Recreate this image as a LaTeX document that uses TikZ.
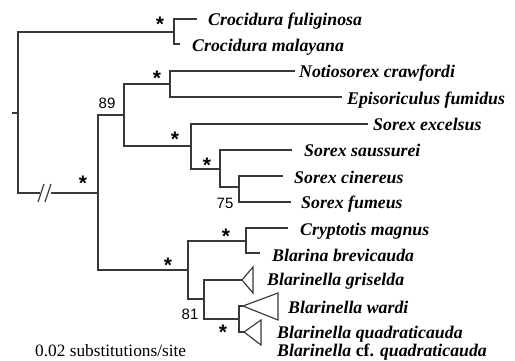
\documentclass[tikz,border=0pt]{standalone}
\usepackage{fontspec}
\setmainfont{Liberation Serif}
\newfontfamily\numfam{Liberation Sans}
\begin{document}
\begin{tikzpicture}[x=1bp,y=-1bp,
  br/.style={draw=black!78,line width=1.15bp},
  taxon/.style={font=\fontsize{17.8bp}{20bp}\selectfont\bfseries\itshape,anchor=base west,inner sep=0pt},
  supp/.style={font=\numfam\fontsize{15bp}{17bp}\selectfont,inner sep=0pt},
  starlbl/.style={font=\numfam\bfseries\fontsize{21bp}{23bp}\selectfont,anchor=base,inner sep=0pt},
  scaletxt/.style={font=\fontsize{17.3bp}{20bp}\selectfont,anchor=base west,inner sep=0pt}]
\useasboundingbox (0,0) rectangle (515,360);
% internal nodes
\coordinate (r) at (18,113);
\coordinate (c1) at (174,32);
\coordinate (A) at (98,193);
\coordinate (B) at (124,115);
\coordinate (C) at (170,84);
\coordinate (D) at (191,146);
\coordinate (E) at (220,169);
\coordinate (F) at (239,187);
\coordinate (G) at (188,270);
\coordinate (H) at (246,241);
\coordinate (I) at (204,299);
\coordinate (J) at (239,319);
% tips
\coordinate (t1) at (197,19);
\coordinate (t2) at (180,44);
\coordinate (t3) at (295,71);
\coordinate (t4) at (342,97);
\coordinate (t5) at (368,124);
\coordinate (t6) at (292,150);
\coordinate (t7) at (283,176);
\coordinate (t8) at (291,202);
\coordinate (t9) at (288,228);
\coordinate (t10) at (260,253);
\coordinate (a11) at (242,280);
\coordinate (a12) at (243,306);
\coordinate (a13) at (244,332);
\coordinate (rt) at (12,113);
\coordinate (bk1) at (40,193);
\coordinate (bk2) at (51,193);
% root tick
\draw[br] (rt) -- (r);
% root children
\draw[br] (r) |- (c1);
\draw[br] (r) |- (bk1);
\draw[br] (bk2) -- (A);
\draw[br] (38,202) -- (44,184);
\draw[br] (45,202) -- (51,184);
% Crocidura
\draw[br] (c1) |- (t1);
\draw[br] (c1) |- (t2);
% A
\draw[br] (A) |- (B);
\draw[br] (A) |- (G);
\draw[br] (B) |- (C);
\draw[br] (B) |- (D);
\draw[br] (C) |- (t3);
\draw[br] (C) |- (t4);
\draw[br] (D) |- (t5);
\draw[br] (D) |- (E);
\draw[br] (E) |- (t6);
\draw[br] (E) |- (F);
\draw[br] (F) |- (t7);
\draw[br] (F) |- (t8);
\draw[br] (G) |- (H);
\draw[br] (G) |- (I);
\draw[br] (H) |- (t9);
\draw[br] (H) |- (t10);
\draw[br] (I) |- (a11);
\draw[br] (J) |- (a12);
\draw[br] (J) |- (a13);
\draw[br] (I) |- (J);
% collapsed clades
\draw[br] (a11) -- (253,267) -- (253,293) -- cycle;
\draw[br] (a12) -- (278,293) -- (278,320) -- cycle;
\draw[br] (a13) -- (261,320) -- (261,345) -- cycle;
% taxa
\node[taxon] (n1) at (208,25) {Crocidura fuliginosa};
\node[taxon] (n2) at (192,51) {Crocidura malayana};
\node[taxon] (n3) at (299,77) {Notiosorex crawfordi};
\node[taxon] (n4) at (347,104) {Episoriculus fumidus};
\node[taxon] (n5) at (373,130) {Sorex excelsus};
\node[taxon] (n6) at (304,156) {Sorex saussurei};
\node[taxon] (n7) at (294,183) {Sorex cinereus};
\node[taxon] (n8) at (301,208) {Sorex fumeus};
\node[taxon] (n9) at (300,235) {Cryptotis magnus};
\node[taxon] (n10) at (272,261) {Blarina brevicauda};
\node[taxon] (n11) at (267,285) {Blarinella griselda};
\node[taxon] (n12) at (288,313) {Blarinella wardi};
\node[taxon] (n13) at (277,338) {Blarinella quadraticauda};
\node[taxon] (n14) at (277,356) {Blarinella {\upshape cf.} quadraticauda};
% support values
\node[supp] (s89) at (107,103.5) {89};
\node[supp] (s75) at (225,203) {75};
\node[supp] (s81) at (190,314) {81};
\node[starlbl] (st1) at (160,31) {*};
\node[starlbl] (st2) at (157,85) {*};
\node[starlbl] (st3) at (175,146) {*};
\node[starlbl] (st4) at (207,172) {*};
\node[starlbl] (st5) at (83,190) {*};
\node[starlbl] (st6) at (226,243) {*};
\node[starlbl] (st7) at (168,272) {*};
\node[starlbl] (st8) at (223,339) {*};
% scale
\node[scaletxt] (sc) at (35,356) {0.02 substitutions/site};
\end{tikzpicture}
\end{document}
